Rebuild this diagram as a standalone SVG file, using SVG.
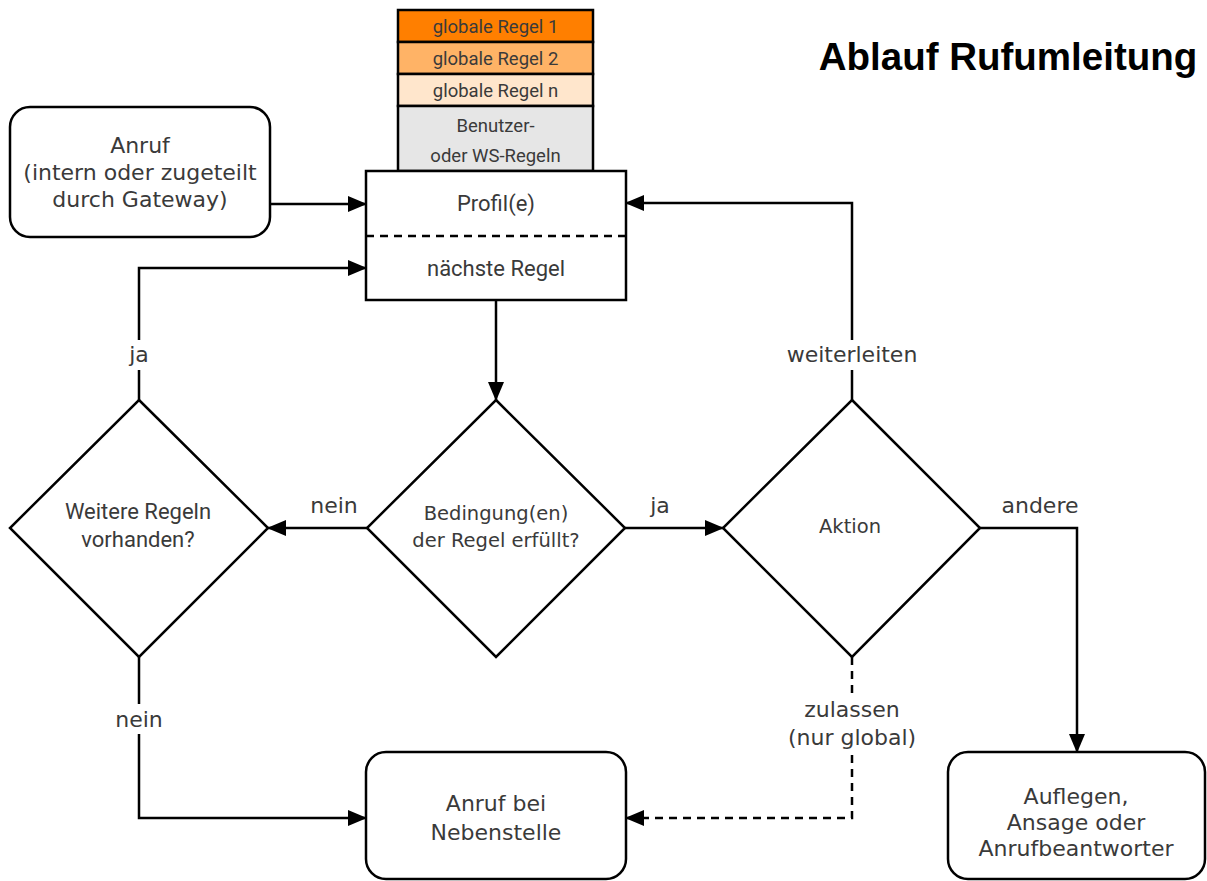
<svg xmlns="http://www.w3.org/2000/svg" width="1207" height="881" viewBox="0 0 1207 881">
<defs>
<marker id="arr" markerWidth="19" markerHeight="16" refX="18" refY="8" orient="auto" markerUnits="userSpaceOnUse">
<path d="M0,0 L19,8 L0,16 Z" fill="#000"/>
</marker>
<style>
.box{fill:#fff;stroke:#000;stroke-width:2.5}
.dia{fill:#fff;stroke:#000;stroke-width:2.5}
.st{stroke:#000;stroke-width:2.5}
.edge{fill:none;stroke:#000;stroke-width:2.5}
.dash{stroke-dasharray:8 6}
.dj{font-family:"DejaVu Sans",sans-serif;font-size:22px;fill:#3a3a3a;text-anchor:middle}
.dj20{font-family:"DejaVu Sans",sans-serif;font-size:19.5px;fill:#3a3a3a;text-anchor:middle}
.rb{font-family:Roboto,sans-serif;font-size:22px;fill:#3a3a3a;text-anchor:middle}
.rbs{font-family:Roboto,sans-serif;font-size:18.5px;fill:#3a3a3a;text-anchor:middle}
.lbl{font-family:"DejaVu Sans",sans-serif;font-size:22px;fill:#3a3a3a;text-anchor:middle}
.bg{fill:#fff}
</style>
</defs>
<rect width="1207" height="881" fill="#fff"/>

<g id="title">
<text x="1008" y="70" font-family="Liberation Sans, Arial, sans-serif" font-weight="bold" font-size="38.5" text-anchor="middle" fill="#000">Ablauf Rufumleitung</text>
</g>

<g id="connectors">
<path class="edge" d="M270,204 L366,204" marker-end="url(#arr)"/>
<path class="edge" d="M496,300 L496,400" marker-end="url(#arr)"/>
<path class="edge" d="M367,528 L268,528" marker-end="url(#arr)"/>
<path class="edge" d="M625,528 L723,528" marker-end="url(#arr)"/>
<path class="edge" d="M139,400 L139,268 L366,268" marker-end="url(#arr)"/>
<path class="edge" d="M139,657 L139,818 L366,818" marker-end="url(#arr)"/>
<path class="edge" d="M852,400 L852,203 L626,203" marker-end="url(#arr)"/>
<path class="edge" d="M980,528 L1077,528 L1077,752" marker-end="url(#arr)"/>
<path class="edge dash" d="M852,657 L852,818 L626,818" marker-end="url(#arr)"/>
<rect class="bg" x="124" y="340" width="30" height="30"/>
<text class="lbl" x="139" y="362">ja</text>
<rect class="bg" x="782" y="340" width="140" height="30"/>
<text class="lbl" x="852" y="362">weiterleiten</text>
<rect class="bg" x="112" y="704" width="54" height="30"/>
<text class="lbl" x="139" y="727">nein</text>
<rect class="bg" x="785" y="695" width="136" height="58"/>
<text class="lbl" x="852" y="717">zulassen</text>
<text class="lbl" x="852" y="745">(nur global)</text>
<text class="lbl" x="334" y="513">nein</text>
<text class="lbl" x="660" y="513">ja</text>
<text class="lbl" x="1040" y="513">andere</text>
</g>

<g id="anruf">
<rect class="box" x="10" y="107" width="260" height="130" rx="20"/>
<text class="dj" x="140" y="153">Anruf</text>
<text class="dj" x="140" y="180">(intern oder zugeteilt</text>
<text class="dj" x="140" y="207">durch Gateway)</text>
</g>

<g id="regelstapel">
<rect x="398" y="10" width="195" height="32" fill="#FF7F00" class="st"/>
<text class="rbs" x="495.5" y="33">globale Regel 1</text>
<rect x="398" y="42" width="195" height="32" fill="#FFB366" class="st"/>
<text class="rbs" x="495.5" y="65">globale Regel 2</text>
<rect x="398" y="74" width="195" height="32" fill="#FFE6CC" class="st"/>
<text class="rbs" x="495.5" y="97">globale Regel n</text>
<rect x="398" y="106" width="195" height="65" fill="#E6E6E6" class="st"/>
<text class="rbs" x="495.5" y="132">Benutzer-</text>
<text class="rbs" x="495.5" y="162">oder WS-Regeln</text>
</g>

<g id="profil">
<rect class="box" x="366" y="171" width="260" height="129"/>
<line x1="366" y1="236" x2="626" y2="236" stroke="#000" stroke-width="2.5" stroke-dasharray="8 6"/>
<text class="rb" x="496" y="211">Profil(e)</text>
<text class="rb" x="496" y="276">nächste Regel</text>
</g>

<g id="weitere">
<polygon class="dia" points="139,400 268,528 139,657 10,528"/>
<text class="rb" x="138" y="519">Weitere Regeln</text>
<text class="rb" x="138" y="547">vorhanden?</text>
</g>

<g id="bedingung">
<polygon class="dia" points="496,400 625,528 496,657 367,528"/>
<text class="dj20" x="496" y="520">Bedingung(en)</text>
<text class="dj20" x="496" y="547">der Regel erfüllt?</text>
</g>

<g id="aktion">
<polygon class="dia" points="852,400 980,528 852,657 723,528"/>
<text class="dj20" x="850" y="533">Aktion</text>
</g>

<g id="nebenstelle">
<rect class="box" x="366" y="752" width="260" height="127" rx="20"/>
<text class="dj" x="496" y="811">Anruf bei</text>
<text class="dj" x="496" y="840">Nebenstelle</text>
</g>

<g id="auflegen">
<rect class="box" x="948" y="752" width="257" height="127" rx="20"/>
<text class="dj" x="1076" y="804">Auflegen,</text>
<text class="dj" x="1076" y="830">Ansage oder</text>
<text class="dj" x="1076" y="856">Anrufbeantworter</text>
</g>
</svg>
